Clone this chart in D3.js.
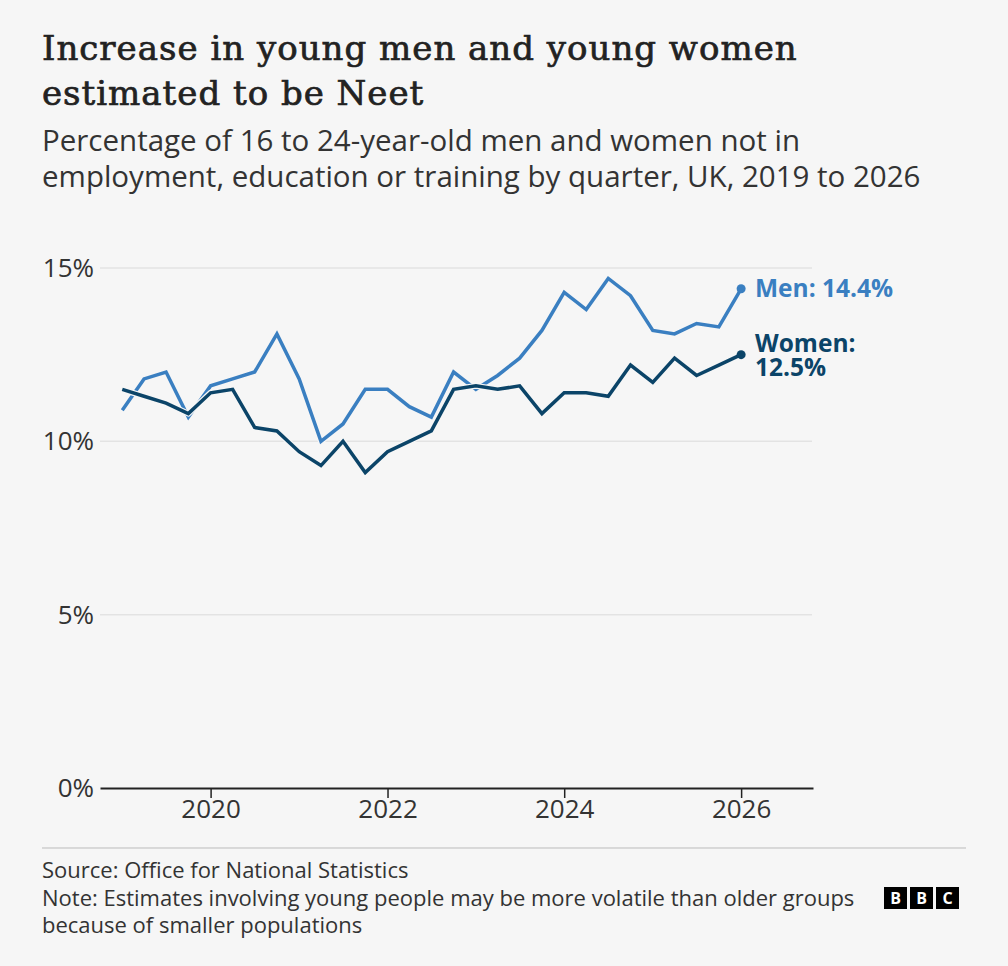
<!DOCTYPE html>
<html>
<head>
<meta charset="utf-8">
<script src="https://cdn.jsdelivr.net/npm/d3@7"></script>
<style>
  body { margin: 0; background: #f6f6f6; }
  svg { display: block; }
</style>
</head>
<body>
<svg width="1008" height="966"></svg>
<script>
let quarters = [
  "2019-01", "2019-04", "2019-07", "2019-10",
  "2020-01", "2020-04", "2020-07", "2020-10",
  "2021-01", "2021-04", "2021-07", "2021-10",
  "2022-01", "2022-04", "2022-07", "2022-10",
  "2023-01", "2023-04", "2023-07", "2023-10",
  "2024-01", "2024-04", "2024-07", "2024-10",
  "2025-01", "2025-04", "2025-07", "2025-10",
  "2026-01"
];

let men = [
  10.9, 11.8, 12.0, 10.7, 11.6, 11.8, 12.0, 13.1,
  11.8, 10.0, 10.5, 11.5, 11.5, 11.0, 10.7, 12.0,
  11.5, 11.9, 12.4, 13.2, 14.3, 13.8, 14.7, 14.2,
  13.2, 13.1, 13.4, 13.3, 14.4
];

let women = [
  11.5, 11.3, 11.1, 10.8, 11.4, 11.5, 10.4, 10.3,
  9.7, 9.3, 10.0, 9.1, 9.7, 10.0, 10.3, 11.5,
  11.6, 11.5, 11.6, 10.8, 11.4, 11.4, 11.3, 12.2,
  11.7, 12.4, 11.9, 12.2, 12.5
];

let yTicks = [0, 5, 10, 15];
let xTicks = [2020, 2022, 2024, 2026];

let menColour = "#3a7fc1";
let womenColour = "#0b4468";
let sans = "'Open Sans', sans-serif";

let parseQ = d3.timeParse("%Y-%m");
let dates = quarters.map(parseQ);

let svg = d3.select("svg");

svg.append("rect")
  .attr("width", 1008)
  .attr("height", 966)
  .attr("fill", "#f6f6f6");

// title + subtitle
let title = svg.append("text")
  .attr("x", 42)
  .attr("y", 60)
  .style("font-family", "'DejaVu Serif', serif")
  .style("font-size", "34px")
  .style("letter-spacing", "1px")
  .style("fill", "#222")
  .style("stroke", "#222")
  .style("stroke-width", 0.7);
title.append("tspan").attr("x", 42).text("Increase in young men and young women");
title.append("tspan").attr("x", 42).attr("dy", 45).text("estimated to be Neet");

let sub = svg.append("text")
  .attr("x", 42)
  .attr("y", 151)
  .style("font-family", sans)
  .style("font-size", "29.5px")
  .style("fill", "#333");
sub.append("tspan").attr("x", 42).text("Percentage of 16 to 24-year-old men and women not in");
sub.append("tspan").attr("x", 42).attr("dy", 36).text("employment, education or training by quarter, UK, 2019 to 2026");

let x = d3
  .scaleTime()
  .domain([new Date(2018, 9, 1), new Date(2026, 9, 25)])
  .range([100, 813]);

let y = d3
  .scaleLinear()
  .domain([0, 15])
  .range([788, 268]);

// gridlines
svg.append("g")
  .selectAll("line")
  .data(yTicks.filter(d => d > 0))
  .enter()
  .append("line")
  .attr("x1", 100)
  .attr("x2", 812)
  .attr("y1", d => y(d))
  .attr("y2", d => y(d))
  .style("stroke", "#e3e3e3")
  .style("stroke-width", 1.5);

svg.append("g")
  .selectAll("text")
  .data(yTicks)
  .enter()
  .append("text")
  .attr("x", 94)
  .attr("y", d => y(d))
  .attr("dy", "0.35em")
  .attr("text-anchor", "end")
  .style("font-family", sans)
  .style("font-size", "26px")
  .style("fill", "#333")
  .text(d => d + "%");

// x axis
let xAxis = svg.append("g")
  .attr("transform", "translate(0," + y(0) + ")")
  .call(
    d3.axisBottom(x)
      .tickValues(xTicks.map(d => new Date(d, 0, 1)))
      .tickFormat(d3.timeFormat("%Y"))
      .tickSize(10)
      .tickSizeOuter(0)
  );
xAxis.select(".domain").style("stroke", "#222").style("stroke-width", 2);
xAxis.selectAll(".tick line").style("stroke", "#222").style("stroke-width", 1.5).attr("y1", 0);
xAxis.selectAll(".tick text")
  .attr("y", 12)
  .style("font-family", sans)
  .style("font-size", "26px")
  .style("fill", "#333");

let line = d3
  .line()
  .x((d, i) => x(dates[i]))
  .y(d => y(d));

let series = [
  { name: "Men", values: men, colour: menColour },
  { name: "Women", values: women, colour: womenColour }
];

series.forEach(s => {
  svg.append("path")
    .attr("d", line(s.values))
    .style("fill", "none")
    .style("stroke", "#f6f6f6")
    .style("stroke-width", 6)
    .style("stroke-linejoin", "round");
  svg.append("path")
    .attr("d", line(s.values))
    .style("fill", "none")
    .style("stroke", s.colour)
    .style("stroke-width", 3.5)
    .style("stroke-linejoin", "miter");
  let last = s.values.length - 1;
  svg.append("circle")
    .attr("cx", x(dates[last]))
    .attr("cy", y(s.values[last]))
    .attr("r", 4.5)
    .style("fill", s.colour);
});

// end labels
svg.append("text")
  .attr("x", 755)
  .attr("y", y(men[men.length - 1]))
  .attr("dy", "0.35em")
  .style("font-family", sans)
  .style("font-weight", "bold")
  .style("font-size", "24.5px")
  .style("fill", menColour)
  .text("Men: " + men[men.length - 1] + "%");

let wl = svg.append("text")
  .attr("x", 755)
  .attr("y", 352)
  .style("font-family", sans)
  .style("font-weight", "bold")
  .style("font-size", "24.5px")
  .style("fill", womenColour);
wl.append("tspan").attr("x", 755).text("Women:");
wl.append("tspan").attr("x", 755).attr("dy", 24).text(women[women.length - 1] + "%");

// footer
svg.append("line")
  .attr("x1", 42)
  .attr("x2", 966)
  .attr("y1", 848)
  .attr("y2", 848)
  .style("stroke", "#bbb")
  .style("stroke-width", 1);

let foot = svg.append("text")
  .attr("x", 42)
  .attr("y", 878)
  .style("font-family", sans)
  .style("font-size", "22px")
  .style("fill", "#333");
foot.append("tspan").attr("x", 42).text("Source: Office for National Statistics");
foot.append("tspan").attr("x", 42).attr("dy", 28).text("Note: Estimates involving young people may be more volatile than older groups");
foot.append("tspan").attr("x", 42).attr("dy", 27).text("because of smaller populations");

let logo = svg.append("g").attr("transform", "translate(884,887)");
["B", "B", "C"].forEach((l, i) => {
  logo.append("rect")
    .attr("x", i * 26)
    .attr("y", 0)
    .attr("width", 23)
    .attr("height", 22)
    .style("fill", "#000");
  logo.append("text")
    .attr("x", i * 26 + 11.5)
    .attr("y", 11)
    .attr("dy", "0.36em")
    .attr("text-anchor", "middle")
    .style("font-family", sans)
    .style("font-weight", "bold")
    .style("font-size", "16px")
    .style("fill", "#fff")
    .text(l);
});
</script>
</body>
</html>
